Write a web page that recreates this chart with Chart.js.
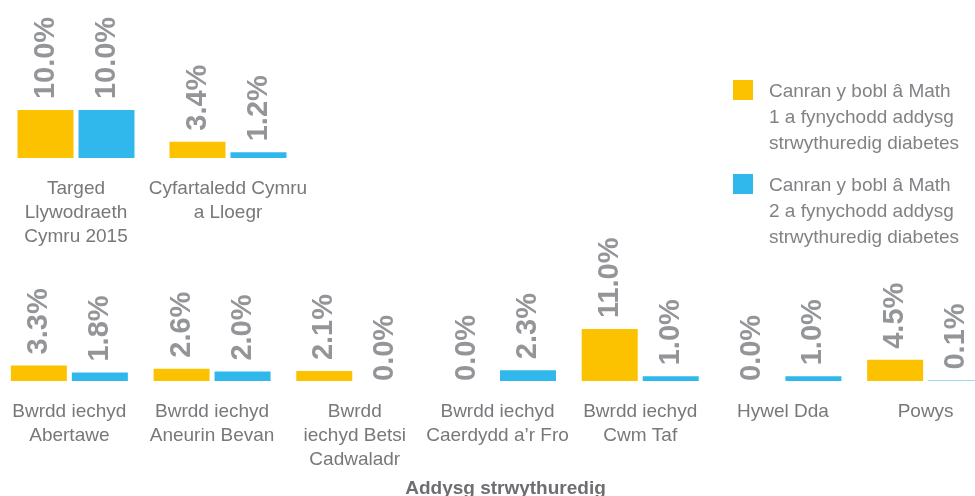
<!DOCTYPE html>
<html>
<head>
<meta charset="utf-8">
<title>Addysg strwythuredig</title>
<script src="https://cdn.jsdelivr.net/npm/chart.js@4.4.1/dist/chart.umd.min.js"></script>
<style>
  html, body {
    margin: 0;
    padding: 0;
    width: 975px;
    height: 496px;
    overflow: hidden;
    background: #ffffff;
    position: relative;
    font-family: "Liberation Sans", Arial, sans-serif;
  }
  #topChart { position: absolute; left: 0; top: 0; }
  #boardChart { position: absolute; left: -2px; top: 230px; }
  #legend { position: absolute; left: 733px; top: 78px; }
  .legend-item { display: flex; align-items: flex-start; margin-bottom: 16px; }
  .legend-box { width: 20px; height: 20px; margin-top: 2px; margin-right: 16px; flex: none; }
  .legend-text { font-size: 19px; line-height: 26px; color: #808285; white-space: nowrap; }
  #axisTitle {
    position: absolute;
    left: 403px;
    width: 205px;
    top: 477px;
    text-align: center;
    font-size: 19px;
    font-weight: bold;
    color: #6d6e71;
    white-space: nowrap;
  }
</style>
</head>
<body>
<canvas id="topChart" width="330" height="250"></canvas>
<canvas id="boardChart" width="999" height="266"></canvas>
<div id="legend"></div>
<div id="axisTitle"></div>

<script>
// --- data ---
const topCategories = [
    ['Targed', 'Llywodraeth', 'Cymru 2015'],
    ['Cyfartaledd Cymru', 'a Lloegr']
];
const topType1 = [10.0, 3.4];
const topType2 = [10.0, 1.2];

const boardCategories = [
    ['Bwrdd iechyd', 'Abertawe'],
    ['Bwrdd iechyd', 'Aneurin Bevan'],
    ['Bwrdd', 'iechyd Betsi', 'Cadwaladr'],
    ['Bwrdd iechyd', 'Caerdydd a’r Fro'],
    ['Bwrdd iechyd', 'Cwm Taf'],
    'Hywel Dda',
    'Powys'
];
const boardType1 = [3.3, 2.6, 2.1, 0.0, 11.0, 0.0, 4.5];
const boardType2 = [1.8, 2.0, 0.0, 2.3, 1.0, 1.0, 0.1];

const seriesLabels = [
    ['Canran y bobl â Math', '1 a fynychodd addysg', 'strwythuredig diabetes'],
    ['Canran y bobl â Math', '2 a fynychodd addysg', 'strwythuredig diabetes']
];
const axisTitle = 'Addysg strwythuredig';

// --- styles ---
const YELLOW = '#fcc200';
const BLUE = '#30b8ec';
const FONT = '"Liberation Sans", Arial, sans-serif';

// rotated value labels above each bar
const valueLabels = {
    id: 'valueLabels',
    afterDatasetsDraw(chart) {
        const ctx = chart.ctx;
        ctx.save();
        ctx.font = 'bold 29px ' + FONT;
        ctx.fillStyle = '#939598';
        ctx.textAlign = 'left';
        ctx.textBaseline = 'middle';
        chart.data.datasets.forEach((ds, i) => {
            chart.getDatasetMeta(i).data.forEach((bar, j) => {
                const v = ds.data[j];
                const gap = v > 0 ? 11 : 0;
                ctx.save();
                ctx.translate(bar.x, bar.y - gap);
                ctx.rotate(-Math.PI / 2);
                ctx.fillText(v.toFixed(1) + '%', 0, 0);
                ctx.restore();
            });
        });
        ctx.restore();
    }
};

function makeChart(id, labels, type1, type2, yMax, axisHeight, catPct, padRight) {
    return new Chart(document.getElementById(id), {
        type: 'bar',
        data: {
            labels: labels,
            datasets: [
                { label: seriesLabels[0].join(' '), data: type1, backgroundColor: YELLOW },
                { label: seriesLabels[1].join(' '), data: type2, backgroundColor: BLUE }
            ]
        },
        options: {
            responsive: false,
            animation: false,
            devicePixelRatio: 1,
            layout: { padding: { left: 0, top: 0, bottom: 0, right: padRight } },
            datasets: { bar: { categoryPercentage: catPct, barPercentage: 0.918 } },
            plugins: { legend: { display: false }, tooltip: { enabled: false } },
            scales: {
                x: {
                    grid: { display: false, drawTicks: false },
                    border: { display: false },
                    ticks: {
                        autoSkip: false,
                        maxRotation: 0,
                        minRotation: 0,
                        padding: 19,
                        color: '#77787b',
                        font: { family: FONT, size: 19, lineHeight: 24 / 19 }
                    },
                    afterFit(scale) {
                        scale.height = axisHeight;
                        scale.paddingLeft = 0;
                        scale.paddingRight = 0;
                    }
                },
                y: { display: false, min: 0, max: yMax }
            }
        },
        plugins: [valueLabels]
    });
}

// top row: chart area 304px wide, extra room on the right for the long label
makeChart('topChart', topCategories, topType1, topType2, 33, 92, 122 / 152, 26);
makeChart('boardChart', boardCategories, boardType1, boardType2, 32, 115, 122 / (999 / 7), 0);

// legend (multi-line, so built as html)
const legendEl = document.getElementById('legend');
[YELLOW, BLUE].forEach((color, i) => {
    const item = document.createElement('div');
    item.className = 'legend-item';
    item.innerHTML = `<div class="legend-box" style="background:${color}"></div>
        <div class="legend-text">${seriesLabels[i].join('<br>')}</div>`;
    legendEl.appendChild(item);
});
document.getElementById('axisTitle').textContent = axisTitle;
</script>
</body>
</html>
